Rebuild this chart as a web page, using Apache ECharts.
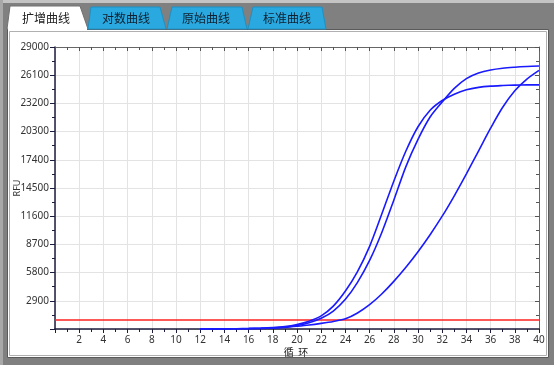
<!DOCTYPE html>
<html>
<head>
<meta charset="utf-8">
<script src="https://cdn.jsdelivr.net/npm/echarts@6/dist/echarts.min.js"></script>
<style>
html,body{margin:0;padding:0;background:#808080;}
#c{width:554px;height:365px;}
</style>
</head>
<body>
<div id="c"></div>
<script>
// ---- data ----
var cycles = [1,2,3,4,5,6,7,8,9,10,11,12,13,14,15,16,17,18,19,20,21,22,23,24,25,26,27,28,29,30,31,32,33,34,35,36,37,38,39,40];
var curveA = [null,null,null,null,null,null,null,null,null,null,null,
  5,9,15,26,45,80,140,245,460,800,1350,2350,3900,5900,8500,11800,15200,18300,20800,22500,23500,24150,24600,24850,24980,25040,25080,25100,25110];
var curveB = [null,null,null,null,null,null,null,null,null,null,null,
  4,8,13,22,38,66,115,200,360,640,1100,1850,3050,4800,7050,9900,13250,16700,19500,21800,23350,24750,25750,26320,26640,26820,26920,26990,27040];
var curveC = [null,null,null,null,null,null,null,null,null,null,null,
  3,6,11,20,35,60,100,170,280,410,580,780,1050,1650,2500,3600,4900,6350,7950,9700,11600,13700,15950,18300,20650,22800,24500,25700,26600];
var thresholdValue = 1000;
var yTicks = [0,2900,5800,8700,11600,14500,17400,20300,23200,26100,29000];
var xTicks = [2,4,6,8,10,12,14,16,18,20,22,24,26,28,30,32,34,36,38,40];
var tabNames = ['扩增曲线','对数曲线','原始曲线','标准曲线'];
var xName = '循  环';
var yName = 'RFU';

function pairs(vals){
  var out = [];
  for (var i = 0; i < cycles.length; i++) {
    if (vals[i] !== null) out.push([cycles[i], vals[i]]);
  }
  return out;
}

var chart = echarts.init(document.getElementById('c'), null, {renderer:'canvas'});
var lblFont = {fontFamily:'Noto Sans', fontSize:10, color:'#333'};
var blue = '#1a1aff';

function curve(name, vals){
  return {
    name:name, type:'line', data:pairs(vals), xAxisIndex:0, yAxisIndex:0,
    showSymbol:false, smooth:0.3, z:5,
    lineStyle:{color:blue, width:1.6}
  };
}

var tabShapes = [
  [[7,29],[10,6],[80,6],[88,29]],
  [[88,29],[91,7],[160,7],[166,29]],
  [[167,29],[172,7],[242,7],[247,29]],
  [[248,29],[253,7],[322,7],[326,29]]
];
var tabCenters = [46,126,206,287];

var graphics = [
  {type:'rect', z:-20, shape:{x:0,y:0,width:554,height:3}, style:{fill:'#c4c4c4'}},
  {type:'rect', z:-20, shape:{x:0,y:0,width:3,height:365}, style:{fill:'#a8a8a8'}},
  {type:'rect', z:-19, shape:{x:7.5,y:29.5,width:541,height:328}, style:{fill:'#ffffff', stroke:'#5a5a5a', lineWidth:1}},
  {type:'rect', z:-19, shape:{x:9.5,y:31.5,width:537,height:324}, style:{fill:'none', stroke:'#b0b0b0', lineWidth:1}}
];
for (var t = 0; t < tabNames.length; t++) {
  var active = (t === 0);
  graphics.push({type:'polygon', z:-18, shape:{points:tabShapes[t]},
    style:{fill: active ? '#ffffff' : '#29a9df', stroke: active ? '#707070' : '#1e90c4', lineWidth:1}});
  graphics.push({type:'text', z:50, x:tabCenters[t], y:18,
    style:{text:tabNames[t], fill: active ? '#222' : '#102030', font:'12px "Noto Sans CJK SC"', textAlign:'center', textVerticalAlign:'middle'}});
}
graphics.push({type:'rect', z:-17, shape:{x:8,y:28,width:79,height:3}, style:{fill:'#ffffff'}});
// axis titles
graphics.push({type:'text', z:50, x:17, y:188, rotation:Math.PI/2,
  style:{text:yName, fill:'#333', font:'9px "Noto Sans"', textAlign:'center', textVerticalAlign:'middle'}});
graphics.push({type:'text', z:50, x:296, y:352,
  style:{text:xName, fill:'#222', font:'10px "Noto Sans CJK SC"', textAlign:'center', textVerticalAlign:'middle'}});

var option = {
  animation:false,
  backgroundColor:'#808080',
  graphic: graphics,
  grid:{left:55, right:15, top:47, bottom:36, show:false, containLabel:false, outerBoundsMode:'none'},
  xAxis:[{
    type:'value', min:0, max:40, interval:2, position:'bottom',
    axisLine:{show:true, onZero:false, lineStyle:{color:'#1c1c3c', width:1.5}},
    axisTick:{show:true, length:4, lineStyle:{color:'#1c1c3c'}},
    minorTick:{show:true, splitNumber:2, length:3, lineStyle:{color:'#1c1c3c'}},
    axisLabel:Object.assign({margin:6, formatter:function(v){ return xTicks.indexOf(v) >= 0 ? String(v) : ''; }}, lblFont),
    splitLine:{show:true, lineStyle:{color:'#e3e3e3', width:1}}
  },{
    type:'value', min:0, max:40, interval:2, position:'top',
    axisLine:{show:true, onZero:false, lineStyle:{color:'#666', width:1}},
    axisTick:{show:true, inside:true, length:4, lineStyle:{color:'#555'}},
    minorTick:{show:true, splitNumber:2, length:3, lineStyle:{color:'#555'}},
    axisLabel:{show:false}, splitLine:{show:false}
  }],
  yAxis:[{
    type:'value', min:0, max:29000, interval:2900, position:'left',
    axisLine:{show:true, onZero:false, lineStyle:{color:'#1c1c3c', width:1.5}},
    axisTick:{show:true, length:5, lineStyle:{color:'#1c1c3c'}},
    minorTick:{show:true, splitNumber:2, length:3, lineStyle:{color:'#1c1c3c'}},
    axisLabel:Object.assign({margin:6, formatter:function(v){ return yTicks.indexOf(v) > 0 ? String(v) : ''; }}, lblFont),
    splitLine:{show:true, lineStyle:{color:'#e3e3e3', width:1}}
  },{
    type:'value', min:0, max:29000, interval:2900, position:'right',
    axisLine:{show:true, onZero:false, lineStyle:{color:'#666', width:1}},
    axisTick:{show:true, inside:true, length:4, lineStyle:{color:'#555'}},
    minorTick:{show:true, splitNumber:2, length:3, lineStyle:{color:'#555'}},
    axisLabel:{show:false}, splitLine:{show:false}
  }],
  series:[
    curve('A', curveA),
    curve('B', curveB),
    curve('C', curveC),
    {
      name:'threshold', type:'line', data:[], xAxisIndex:0, yAxisIndex:0,
      markLine:{silent:true, symbol:['none','none'], label:{show:false},
        lineStyle:{color:'#ff2020', width:1.5, type:'solid'},
        data:[{yAxis:thresholdValue}]}
    }
  ]
};
chart.setOption(option);
</script>
</body>
</html>
